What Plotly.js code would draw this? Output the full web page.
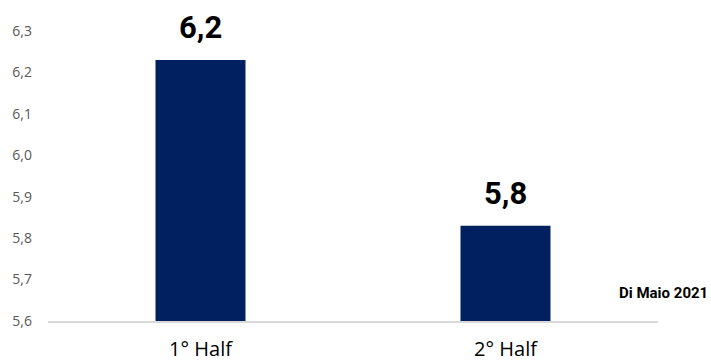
<!DOCTYPE html>
<html>
<head>
<meta charset="utf-8">
<script src="https://cdn.plot.ly/plotly-3.0.1.min.js"></script>
<style>html,body{margin:0;padding:0;background:#fff;}#chart{width:711px;height:363px;}</style>
</head>
<body>
<div id="chart"></div>
<script>
const categories = ["1° Half", "2° Half"];
const values = [6.23, 5.83];
const valueLabels = ["6,2", "5,8"];
const yTicks = [5.6, 5.7, 5.8, 5.9, 6.0, 6.1, 6.2, 6.3];

const trace = {
  type: "bar",
  x: categories,
  y: values,
  marker: {color: "#002060"},
  hoverinfo: "skip"
};

const annotations = categories.map((c, i) => ({
  x: c, y: values[i], xref: "x", yref: "y",
  text: "<b>" + valueLabels[i] + "</b>",
  showarrow: false, yanchor: "bottom", yshift: 12,
  font: {family: "Roboto, sans-serif", size: 31, color: "#000"}
}));
annotations.push({
  xref: "paper", yref: "paper", x: 1.086, y: 0.06, xanchor: "right", yanchor: "bottom",
  text: "<b>Di Maio 2021</b>", showarrow: false,
  font: {family: "Roboto, sans-serif", size: 15, color: "#000"}
});
annotations.push({
  xref: "paper", yref: "paper", x: 0.558, y: 1.12, xanchor: "center", yanchor: "bottom",
  text: "<b>p</b>", showarrow: false,
  font: {family: "Roboto, sans-serif", size: 40, color: "#000"}
});

const layout = {
  width: 711, height: 363,
  margin: {l: 48, r: 53, t: 31, b: 42, pad: 0},
  paper_bgcolor: "#fff", plot_bgcolor: "#fff",
  separators: ",.",
  showlegend: false,
  bargap: 0.705,
  xaxis: {
    type: "category",
    showgrid: false, zeroline: false,
    showline: true, linecolor: "#d9d9d9", linewidth: 2,
    ticks: "", tickfont: {family: "Open Sans, sans-serif", size: 20, color: "#000"},
    ticklabelstandoff: 9
  },
  yaxis: {
    range: [5.6, 6.3], tickvals: yTicks, tickformat: ".1f",
    showgrid: false, zeroline: false, showline: false, ticks: "",
    tickfont: {family: "Open Sans, sans-serif", size: 14, color: "#595959"},
    ticklabelstandoff: 15
  },
  annotations: annotations
};

Plotly.newPlot("chart", [trace], layout, {displayModeBar: false, staticPlot: true});
</script>
</body>
</html>
